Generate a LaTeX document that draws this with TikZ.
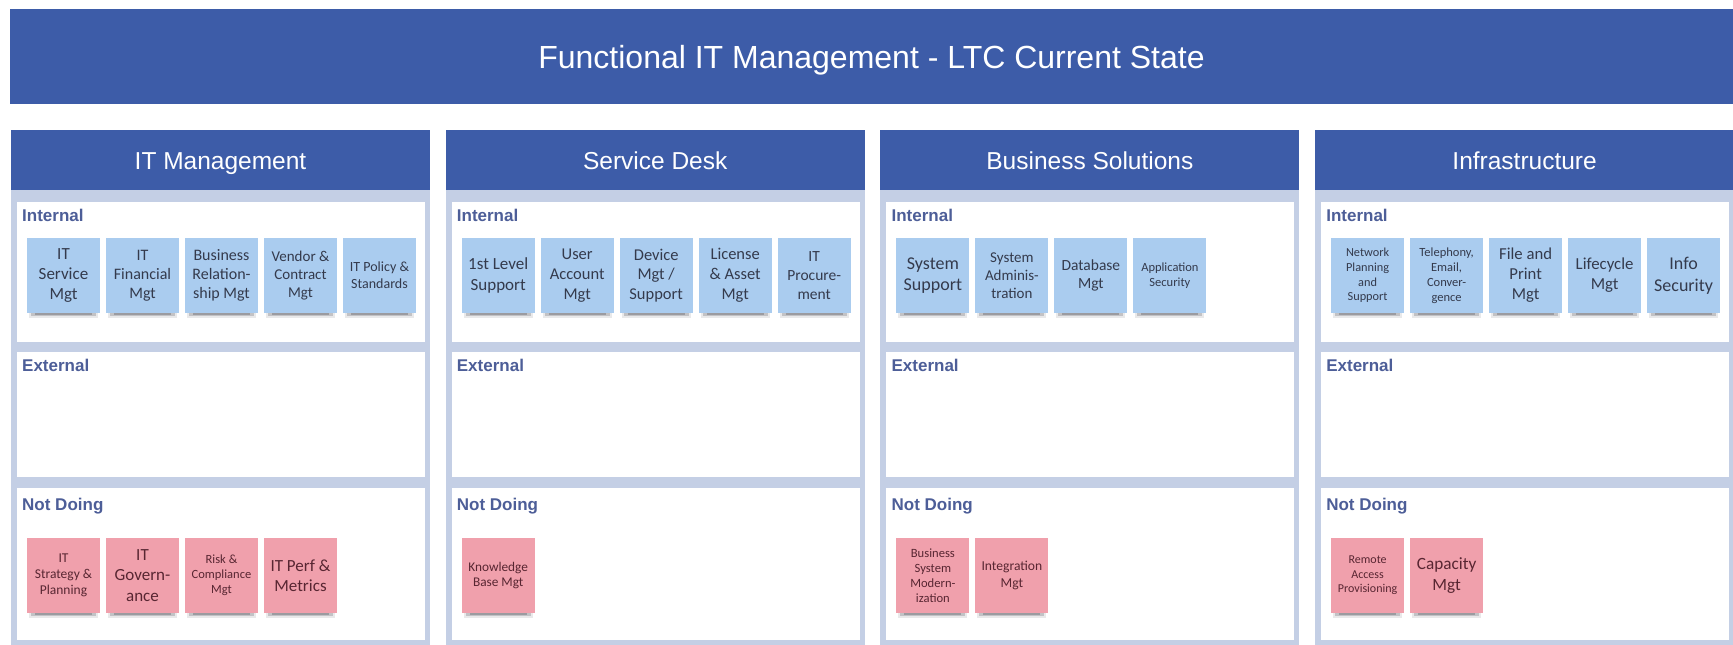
\documentclass[tikz,border=0pt]{standalone}
\usepackage{fontspec}
\setmainfont{Liberation Sans}
\newfontfamily\notefont{Carlito}

\definecolor{barblue}{RGB}{61,92,168}
\definecolor{framelight}{RGB}{196,207,229}
\definecolor{labelblue}{RGB}{77,94,152}
\definecolor{noteblue}{RGB}{170,204,239}
\definecolor{notepink}{RGB}{240,160,172}
\definecolor{bluetext}{RGB}{52,58,76}
\definecolor{pinktext}{RGB}{88,38,50}
\definecolor{shadowgray}{RGB}{40,40,50}

% one sticky note: name, column, slot, top edge, style, font size, text
\newcommand\stickynote[7]{%
  \pgfmathsetmacro\notex{11+434.7*#2+16+79*#3}%
  \pgfmathsetmacro\noteskip{#6*1.2}%
  \fill[shadowgray, opacity=.10] (\notex+2,#4+60) rectangle (\notex+71,#4+79.5);
  \fill[shadowgray, opacity=.20] (\notex+4,#4+60) rectangle (\notex+69,#4+78);
  \fill[shadowgray, opacity=.25] (\notex+8,#4+60) rectangle (\notex+65,#4+76.5);
  \node[#5, font={\notefont\fontsize{#6}{\noteskip}\selectfont}] (#1) at (\notex+36.5,#4+37.5) {#7};
}

\begin{document}
\begin{tikzpicture}[x=1pt,y=-1pt,
  titletext/.style={text=white, font=\fontsize{32}{38}\selectfont, inner sep=0, anchor=base},
  headtext/.style={text=white, font=\fontsize{24.5}{29}\selectfont, inner sep=0, anchor=base},
  seclabel/.style={text=labelblue, font=\bfseries\fontsize{17}{20}\selectfont, anchor=base west, inner sep=0},
  notebase/.style={minimum width=73pt, minimum height=75pt, inner sep=0, align=center},
  bluenote/.style={notebase, fill=noteblue, text=bluetext},
  pinknote/.style={notebase, fill=notepink, text=pinktext}]
\useasboundingbox (0,0) rectangle (1733,645);
\fill[white] (0,0) rectangle (1733,645);

% title bar
\fill[barblue] (10,9) rectangle (1740,104);
\node[titletext] (title) at (871.5,68) {Functional IT Management - LTC Current State};

% four columns with their three sections
\foreach \i/\hd in {0/IT Management,1/Service Desk,2/Business Solutions,3/Infrastructure}{
  \pgfmathsetmacro\cx{11+434.7*\i}
  \fill[framelight] (\cx,190) rectangle (\cx+419,650);
  \fill[barblue] (\cx,130) rectangle (\cx+419,190);
  \node[headtext] (head\i) at (\cx+209.5,169) {\hd};
  \fill[white] (\cx+6,202) rectangle (\cx+414,342);
  \fill[white] (\cx+6,352) rectangle (\cx+414,477);
  \fill[white] (\cx+6,488) rectangle (\cx+414,640);
  \node[seclabel] (int\i) at (\cx+11,221) {Internal};
  \node[seclabel] (ext\i) at (\cx+11,371) {External};
  \node[seclabel] (not\i) at (\cx+11,510) {Not Doing};
}

% IT Management
\stickynote{itsm}{0}{0}{238}{bluenote}{17}{IT\\Service\\Mgt}
\stickynote{itfin}{0}{1}{238}{bluenote}{16}{IT\\Financial\\Mgt}
\stickynote{brm}{0}{2}{238}{bluenote}{16}{Business\\Relation-\\ship Mgt}
\stickynote{vendor}{0}{3}{238}{bluenote}{15}{Vendor \&\\Contract\\Mgt}
\stickynote{policy}{0}{4}{238}{bluenote}{14}{IT Policy \&\\Standards}
\stickynote{strategy}{0}{0}{538}{pinknote}{13.5}{IT\\Strategy \&\\Planning}
\stickynote{gov}{0}{1}{538}{pinknote}{17}{IT\\Govern-\\ance}
\stickynote{risk}{0}{2}{538}{pinknote}{12.5}{Risk \&\\Compliance\\Mgt}
\stickynote{perf}{0}{3}{538}{pinknote}{17}{IT Perf \&\\Metrics}

% Service Desk
\stickynote{first}{1}{0}{238}{bluenote}{17}{1st Level\\Support}
\stickynote{useracc}{1}{1}{238}{bluenote}{16.5}{User\\Account\\Mgt}
\stickynote{device}{1}{2}{238}{bluenote}{16.5}{Device\\Mgt /\\Support}
\stickynote{license}{1}{3}{238}{bluenote}{16.5}{License\\\& Asset\\Mgt}
\stickynote{procure}{1}{4}{238}{bluenote}{15.5}{IT\\Procure-\\ment}
\stickynote{kb}{1}{0}{538}{pinknote}{13.3}{Knowledge\\Base Mgt}

% Business Solutions
\stickynote{syssup}{2}{0}{238}{bluenote}{18}{System\\Support}
\stickynote{sysadm}{2}{1}{238}{bluenote}{15}{System\\Adminis-\\tration}
\stickynote{dbmgt}{2}{2}{238}{bluenote}{15.5}{Database\\Mgt}
\stickynote{appsec}{2}{3}{238}{bluenote}{12.5}{Application\\Security}
\stickynote{modern}{2}{0}{538}{pinknote}{12.6}{Business\\System\\Modern-\\ization}
\stickynote{integ}{2}{1}{538}{pinknote}{13.6}{Integration\\Mgt}

% Infrastructure
\stickynote{network}{3}{0}{238}{bluenote}{12.3}{Network\\Planning\\and\\Support}
\stickynote{tele}{3}{1}{238}{bluenote}{12.5}{Telephony,\\Email,\\Conver-\\gence}
\stickynote{fileprint}{3}{2}{238}{bluenote}{16.7}{File and\\Print\\Mgt}
\stickynote{lifecycle}{3}{3}{238}{bluenote}{16.8}{Lifecycle\\Mgt}
\stickynote{infosec}{3}{4}{238}{bluenote}{18}{Info\\Security}
\stickynote{remote}{3}{0}{538}{pinknote}{12}{Remote\\Access\\Provisioning}
\stickynote{capacity}{3}{1}{538}{pinknote}{17.2}{Capacity\\Mgt}
\end{tikzpicture}
\end{document}
